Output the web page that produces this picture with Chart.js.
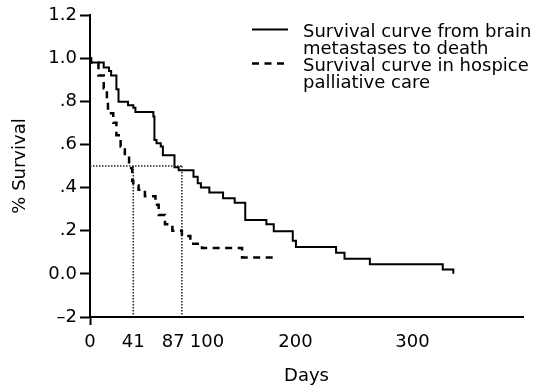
<!DOCTYPE html>
<html>
<head>
<meta charset="utf-8">
<script src="https://cdn.jsdelivr.net/npm/chart.js@4.4.1/dist/chart.umd.min.js"></script>
<style>
  html, body { margin: 0; padding: 0; background: #fff; }
  #wrap { width: 545px; height: 387px; }
</style>
</head>
<body>
<div id="wrap"><canvas id="chart" width="545" height="387"></canvas></div>
<script>
// Kaplan-Meier: brain metastases -> death
const brainDays = [0, 1, 13, 18, 20, 25, 27, 36, 41, 43, 60, 61, 63, 67, 69, 80, 84, 98, 102, 105, 113, 126, 137, 147, 167, 174, 192, 195, 233, 241, 265, 334, 344];
const brainSurvival = [1.0, 0.98, 0.957, 0.94, 0.92, 0.856, 0.798, 0.782, 0.77, 0.75, 0.73, 0.62, 0.605, 0.59, 0.55, 0.494, 0.48, 0.45, 0.42, 0.40, 0.377, 0.35, 0.33, 0.25, 0.23, 0.198, 0.153, 0.125, 0.098, 0.07, 0.045, 0.02, 0.0];

// Kaplan-Meier: hospice palliative care
const hospiceDays = [0, 1, 8, 13, 16, 17, 22, 25, 29, 33, 37, 40, 41, 46, 52, 62, 65, 71, 78, 87, 95, 106, 144, 174];
const hospiceSurvival = [1.0, 0.98, 0.92, 0.86, 0.805, 0.744, 0.70, 0.643, 0.59, 0.545, 0.49, 0.43, 0.41, 0.39, 0.36, 0.32, 0.273, 0.23, 0.20, 0.176, 0.14, 0.12, 0.076, 0.07];

// medians
const medianDays = [41, 87];
const medianSurvival = 0.5;

// axes (label spacing nudges 87 / 100 apart like the printed figure)
const xTickValues = [0, 41, 87, 100, 200, 300];
const xTickLabels = ['0', '41', '87   ', '    100', '200  ', '  300'];
const yTickValues = [-0.2, 0, 0.2, 0.4, 0.6, 0.8, 1.0, 1.2];
const yTickLabels = ['–2', '0.0', '.2', '.4', '.6', '.8', '1.0', '1.2'];

const legendLabels = [
  ['Survival curve from brain', 'metastases to death'],
  ['Survival curve in hospice', 'palliative care'],
];

const font = "'DejaVu Sans', sans-serif";
const toPoints = (xs, ys) => xs.map((x, i) => ({ x: x, y: ys[i] }));

const dotted = { borderColor: '#222', borderWidth: 1.5, borderDash: [1.5, 1.5], pointRadius: 0, fill: false };

const legendPlugin = {
  id: 'sideLegend',
  afterDraw(chart) {
    const ctx = chart.ctx;
    ctx.save();
    ctx.fillStyle = '#000';
    ctx.strokeStyle = '#000';
    ctx.font = '18px ' + font;
    ctx.textBaseline = 'alphabetic';
    // solid sample
    ctx.lineWidth = 2;
    ctx.setLineDash([]);
    ctx.beginPath(); ctx.moveTo(252, 29.5); ctx.lineTo(288, 29.5); ctx.stroke();
    ctx.fillText(legendLabels[0][0], 303, 37);
    ctx.fillText(legendLabels[0][1], 303, 53.5);
    // dashed sample
    ctx.lineWidth = 2.5;
    ctx.setLineDash([7, 5.5]);
    ctx.beginPath(); ctx.moveTo(252, 63.5); ctx.lineTo(288, 63.5); ctx.stroke();
    ctx.setLineDash([]);
    ctx.fillText(legendLabels[1][0], 303, 71);
    ctx.fillText(legendLabels[1][1], 303, 87.5);
    ctx.restore();
  }
};

new Chart(document.getElementById('chart'), {
  type: 'line',
  data: {
    datasets: [
      Object.assign({ data: [{ x: 0, y: medianSurvival }, { x: medianDays[1], y: medianSurvival }] }, dotted),
      Object.assign({ data: [{ x: medianDays[0], y: medianSurvival }, { x: medianDays[0], y: -0.2 }] }, dotted),
      Object.assign({ data: [{ x: medianDays[1], y: medianSurvival }, { x: medianDays[1], y: -0.2 }] }, dotted),
      {
        label: legendLabels[1].join(' '),
        data: toPoints(hospiceDays, hospiceSurvival),
        stepped: 'before',
        borderColor: '#000',
        borderWidth: 2.5,
        borderDash: [7, 5.5],
        pointRadius: 0,
        fill: false,
      },
      {
        label: legendLabels[0].join(' '),
        data: toPoints(brainDays, brainSurvival),
        stepped: 'before',
        borderColor: '#000',
        borderWidth: 2,
        pointRadius: 0,
        fill: false,
      },
    ],
  },
  options: {
    responsive: false,
    animation: false,
    layout: { padding: { top: 15, right: 22, left: 0, bottom: 0 } },
    plugins: { legend: { display: false }, tooltip: { enabled: false } },
    scales: {
      x: {
        type: 'linear',
        min: 0,
        max: 410,
        afterBuildTicks: (s) => { s.ticks = xTickValues.map(v => ({ value: v })); },
        afterFit: (s) => { s.height = 70; },
        ticks: {
          autoSkip: false,
          maxRotation: 0,
          color: '#000',
          font: { family: font, size: 18 },
          padding: 7,
          callback: (v, i) => xTickLabels[i],
        },
        grid: {
          drawOnChartArea: false,
          tickLength: 8,
          tickWidth: 2,
          tickColor: (c) => (c.tick && c.tick.value === 0 ? '#000' : 'rgba(0,0,0,0)'),
        },
        border: { color: '#000', width: 2 },
        title: {
          display: true,
          text: 'Days',
          color: '#000',
          font: { family: font, size: 18 },
          padding: { top: 0, bottom: 0 },
        },
      },
      y: {
        min: -0.2,
        max: 1.2,
        afterBuildTicks: (s) => { s.ticks = yTickValues.map(v => ({ value: v })); },
        afterFit: (s) => { s.width = 90; },
        ticks: {
          color: '#000',
          font: { family: font, size: 18 },
          padding: 3,
          callback: (v, i) => yTickLabels[i],
        },
        grid: { drawOnChartArea: false, tickLength: 10, tickWidth: 2, tickColor: '#000' },
        border: { color: '#000', width: 2 },
        title: {
          display: true,
          text: '% Survival',
          color: '#000',
          font: { family: font, size: 18 },
          padding: { top: 10, bottom: 0 },
        },
      },
    },
  },
  plugins: [legendPlugin],
});
</script>
</body>
</html>
